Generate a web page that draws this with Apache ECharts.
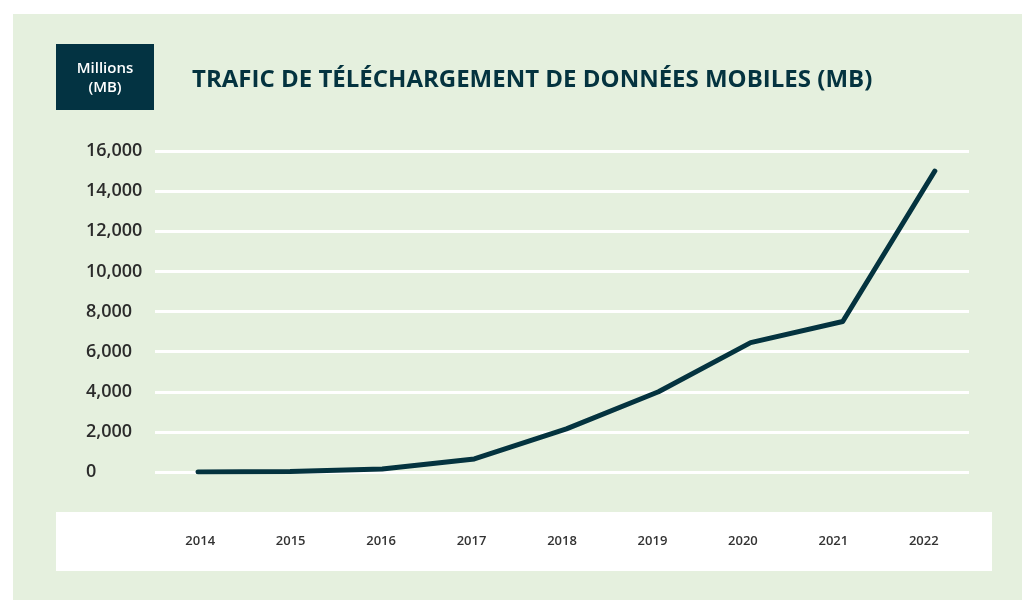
<!DOCTYPE html>
<html>
<head>
    <meta charset="utf-8">
    <title>Trafic de téléchargement</title>
    <script src="https://cdn.jsdelivr.net/npm/echarts@6/dist/echarts.min.js"></script>
    <style>
        html, body {margin: 0; padding: 0; background: #fff;}
        #chart {width: 1022px; height: 600px;}
    </style>
</head>
<body>
<div id="chart"></div>
<script>
    // données
    var years = ['2014', '2015', '2016', '2017', '2018', '2019', '2020', '2021', '2022'];
    var traffic = [0, 20, 150, 650, 2150, 4000, 6450, 7500, 15000];
    var yTicks = [0, 2000, 4000, 6000, 8000, 10000, 12000, 14000, 16000];

    var DARK = '#04333f';
    var chart = echarts.init(document.getElementById('chart'));

    var lineData = [];
    for (var i = 0; i < years.length; i++) {
        lineData.push([parseInt(years[i], 10), traffic[i]]);
    }

    var option = {
        animation: false,
        backgroundColor: '#ffffff',
        textStyle: {fontFamily: 'Open Sans'},
        graphic: [
            // fond vert
            {type: 'rect', z: -10, shape: {x: 13, y: 14, width: 1009, height: 586}, style: {fill: '#e5f0de'}},
            // bande blanche des années
            {type: 'rect', z: -9, shape: {x: 56, y: 512, width: 936, height: 59}, style: {fill: '#ffffff'}},
            // encart unité
            {type: 'rect', shape: {x: 56, y: 44, width: 98, height: 66}, style: {fill: '#033342'}},
            {type: 'text', x: 105, y: 78, style: {
                text: 'Millions\n(MB)', fill: '#ffffff', font: '600 15px "Open Sans"',
                align: 'center', verticalAlign: 'middle', lineHeight: 19
            }}
        ],
        title: {
            text: 'TRAFIC DE TÉLÉCHARGEMENT DE DONNÉES MOBILES (MB)',
            left: 187,
            top: 63,
            textStyle: {color: DARK, fontSize: 24, fontWeight: 'bold', fontFamily: 'Open Sans'}
        },
        grid: {left: 155, right: 53, top: 151, bottom: 128},
        xAxis: [{
            type: 'category',
            data: years,
            boundaryGap: true,
            axisLine: {show: false},
            axisTick: {show: false},
            axisLabel: {margin: 63, color: '#333333', fontSize: 13, fontWeight: 600, fontFamily: 'Open Sans'}
        }, {
            type: 'value',
            show: false,
            min: 2013.533,
            max: 2022.371,
            splitLine: {show: false}
        }],
        yAxis: {
            type: 'value',
            min: yTicks[0],
            max: yTicks[yTicks.length - 1],
            interval: yTicks[1] - yTicks[0],
            axisLine: {show: false},
            axisTick: {show: false},
            splitLine: {lineStyle: {color: '#ffffff', width: 3}},
            axisLabel: {
                align: 'left',
                margin: 69,
                color: '#2b2b2b',
                fontSize: 18,
                fontWeight: 600,
                fontFamily: 'Open Sans',
                padding: [6, 0, 0, 0],
                formatter: function (v) { return v.toLocaleString('en-US'); }
            }
        },
        series: [{
            type: 'line',
            xAxisIndex: 1,
            data: lineData,
            symbol: 'none',
            lineStyle: {color: DARK, width: 5, cap: 'round', join: 'round'}
        }]
    };
    chart.setOption(option);
</script>
</body>
</html>
